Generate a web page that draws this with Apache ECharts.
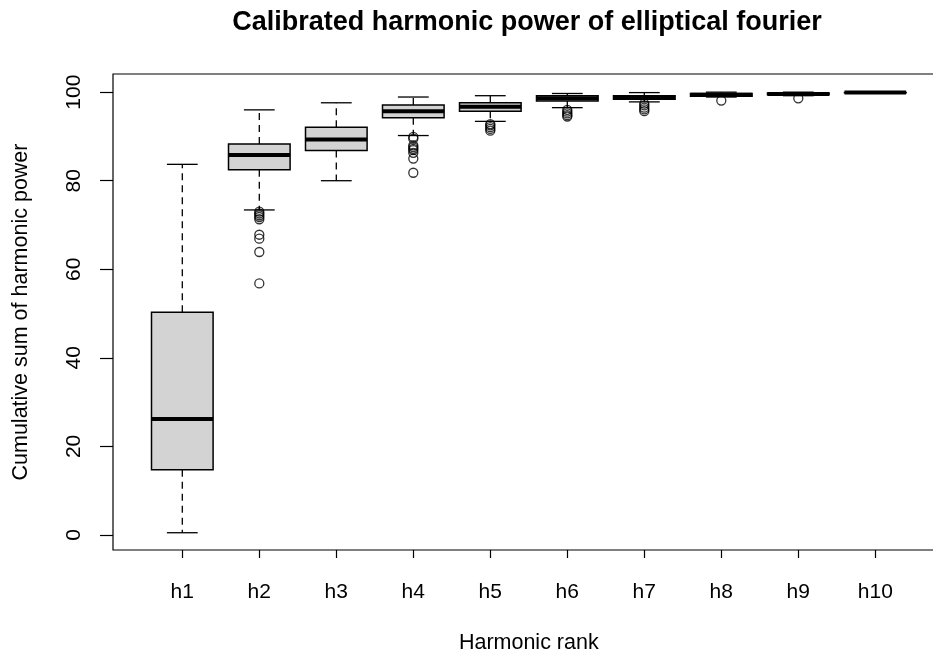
<!DOCTYPE html>
<html>
<head>
<meta charset="utf-8">
<script src="https://cdn.jsdelivr.net/npm/echarts@6/dist/echarts.min.js"></script>
<style>
html,body{margin:0;padding:0;background:#fff;}
#chart{width:933px;height:656px;}
</style>
</head>
<body>
<div id="chart"></div>
<script>
// ---- data ----
var categories = ['h1','h2','h3','h4','h5','h6','h7','h8','h9','h10'];
var lowWhisker  = [0.5, 73.4, 80.0, 90.2, 93.4, 96.5, 97.8, 98.9, 99.2, 99.8];
var q1          = [14.7, 82.5, 86.8, 94.2, 95.7, 98.0, 98.4, 99.1, 99.4, 99.85];
var median      = [26.2, 85.8, 89.3, 95.7, 96.7, 98.6, 98.8, 99.4, 99.6, 99.9];
var q3          = [50.3, 88.3, 92.1, 97.1, 97.6, 99.2, 99.2, 99.7, 99.8, 99.95];
var highWhisker = [83.7, 96.0, 97.6, 98.9, 99.2, 99.7, 99.9, 100.0, 100.0, 100.0];
var outliers = [
  [],
  [73.0, 72.6, 72.2, 71.8, 71.3, 67.8, 66.9, 63.9, 56.8],
  [],
  [89.9, 89.5, 88.0, 87.6, 87.2, 86.9, 86.3, 85.0, 81.8],
  [92.8, 92.5, 92.1, 91.7, 91.3],
  [96.0, 95.6, 95.2, 94.8, 94.5],
  [97.4, 97.0, 96.5, 96.1, 95.7],
  [98.1],
  [98.6],
  []
];
var yTicks = [0, 20, 40, 60, 80, 100];
var xTicks = [1, 2, 3, 4, 5, 6, 7, 8, 9, 10];

var titleText = 'Calibrated harmonic power of elliptical fourier';
var xName = 'Harmonic rank';
var yName = 'Cumulative sum of harmonic power';

// ---- build series data ----
var boxData = categories.map(function (c, i) {
  return [i + 1, lowWhisker[i], q1[i], median[i], q3[i], highWhisker[i]];
});
var outData = [];
outliers.forEach(function (arr, i) {
  arr.forEach(function (v) { outData.push([i + 1, v]); });
});

var FONT = "'Liberation Sans', Arial, sans-serif";
var chart = echarts.init(document.getElementById('chart'), null, {renderer: 'canvas'});

chart.setOption({
  animation: false,
  backgroundColor: '#ffffff',
  graphic: [{
    type: 'text', x: 527, y: 23,
    style: {
      text: titleText, font: 'bold 27px ' + FONT, fill: '#000',
      textAlign: 'center', textVerticalAlign: 'middle'
    }
  }],
  grid: {
    left: 113, top: 74, width: 831.6, height: 476,
    outerBoundsMode: 'none', containLabel: false,
    show: true, borderColor: '#000', borderWidth: 1.2, backgroundColor: 'transparent'
  },
  xAxis: {
    type: 'value', min: 0.1, max: 10.9,
    name: xName, nameLocation: 'middle', nameGap: 82,
    nameTextStyle: {fontFamily: FONT, fontSize: 21.5, color: '#000'},
    axisLine: {show: false, onZero: false},
    axisTick: {show: true, customValues: xTicks, length: 8, lineStyle: {color: '#000', width: 1.2}},
    axisLabel: {
      customValues: xTicks, fontFamily: FONT, fontSize: 21, color: '#000', margin: 32,
      formatter: function (v) { return categories[Math.round(v) - 1] || ''; }
    },
    splitLine: {show: false}
  },
  yAxis: {
    type: 'value', min: -3.4, max: 104.1,
    name: yName, nameLocation: 'middle', nameGap: 81,
    nameTextStyle: {fontFamily: FONT, fontSize: 21.5, color: '#000'},
    axisLine: {show: false, onZero: false},
    axisTick: {show: true, customValues: yTicks, length: 13, lineStyle: {color: '#000', width: 1.2}},
    axisLabel: {
      customValues: yTicks, rotate: 90, fontFamily: FONT, fontSize: 21, color: '#000', margin: 28
    },
    splitLine: {show: false}
  },
  series: [{
    type: 'custom',
    data: boxData,
    encode: {x: 0, y: [1, 2, 3, 4, 5]},
    renderItem: function (params, api) {
      var x = api.value(0);
      var pLow = api.coord([x, api.value(1)]);
      var pQ1 = api.coord([x, api.value(2)]);
      var pMed = api.coord([x, api.value(3)]);
      var pQ3 = api.coord([x, api.value(4)]);
      var pHigh = api.coord([x, api.value(5)]);
      var halfBox = api.size([0.8, 0])[0] / 2;
      var halfCap = api.size([0.4, 0])[0] / 2;
      var cx = pMed[0];
      var dash = {stroke: '#000', lineWidth: 1.3, lineDash: [7, 5]};
      var solid = {stroke: '#000', lineWidth: 1.3};
      return {
        type: 'group',
        children: [
          {type: 'line', shape: {x1: cx, y1: pQ3[1], x2: cx, y2: pHigh[1]}, style: dash},
          {type: 'line', shape: {x1: cx, y1: pQ1[1], x2: cx, y2: pLow[1]}, style: dash},
          {type: 'line', shape: {x1: cx - halfCap, y1: pHigh[1], x2: cx + halfCap, y2: pHigh[1]}, style: solid},
          {type: 'line', shape: {x1: cx - halfCap, y1: pLow[1], x2: cx + halfCap, y2: pLow[1]}, style: solid},
          {type: 'rect', shape: {x: cx - halfBox, y: pQ3[1], width: 2 * halfBox, height: pQ1[1] - pQ3[1]},
            style: {fill: '#d3d3d3', stroke: '#000', lineWidth: 1.5}},
          {type: 'line', shape: {x1: cx - halfBox, y1: pMed[1], x2: cx + halfBox, y2: pMed[1]},
            style: {stroke: '#000', lineWidth: 4}}
        ]
      };
    }
  }, {
    type: 'scatter',
    data: outData,
    symbol: 'circle',
    symbolSize: 9,
    itemStyle: {color: 'rgba(0,0,0,0)', borderColor: '#000', borderWidth: 1.3}
  }]
});
</script>
</body>
</html>
